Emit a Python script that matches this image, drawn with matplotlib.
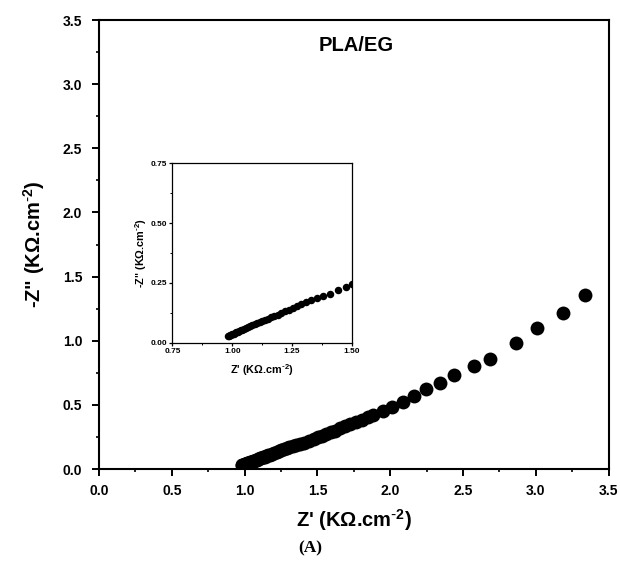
import matplotlib
matplotlib.use("Agg")
import matplotlib.pyplot as plt
from matplotlib.ticker import MultipleLocator

plt.rcParams['font.family'] = ['Liberation Sans', 'DejaVu Sans']
plt.rcParams['mathtext.default'] = 'regular'

# Nyquist data (KOhm.cm^-2)
z_real = [0.980, 0.985, 0.990, 0.995, 1.000, 1.005, 1.010, 1.016, 1.022, 1.028,
          1.035, 1.042, 1.050, 1.058, 1.066, 1.075, 1.084, 1.094, 1.104, 1.115,
          1.126, 1.138, 1.150, 1.163, 1.176, 1.190, 1.205, 1.220, 1.236, 1.253,
          1.270, 1.288, 1.307, 1.330, 1.352, 1.378, 1.407, 1.440, 1.474, 1.501,
          1.530, 1.560, 1.590, 1.620, 1.655, 1.690, 1.725, 1.765, 1.805, 1.845,
          1.882, 1.948, 2.010, 2.090, 2.166, 2.246, 2.340, 2.440, 2.578, 2.685,
          2.864, 3.010, 3.185, 3.338]
z_imag = [0.028, 0.030, 0.032, 0.034, 0.036, 0.038, 0.040, 0.043, 0.046, 0.049,
          0.052, 0.055, 0.058, 0.062, 0.065, 0.069, 0.073, 0.077, 0.082, 0.086,
          0.091, 0.096, 0.101, 0.107, 0.112, 0.118, 0.125, 0.131, 0.138, 0.145,
          0.153, 0.161, 0.170, 0.177, 0.186, 0.194, 0.205, 0.219, 0.233, 0.246,
          0.259, 0.272, 0.286, 0.300, 0.316, 0.332, 0.348, 0.366, 0.385, 0.403,
          0.421, 0.454, 0.486, 0.525, 0.571, 0.621, 0.672, 0.730, 0.803, 0.857,
          0.980, 1.101, 1.218, 1.356]

main_ticks = [0.0, 0.5, 1.0, 1.5, 2.0, 2.5, 3.0, 3.5]
inset_xticks = [0.75, 1.00, 1.25, 1.50]
inset_yticks = [0.00, 0.25, 0.50, 0.75]

label_text_x = "Z' (KΩ.cm$^{\\text{-}2}$)"
label_text_y = '-Z" (KΩ.cm$^{\\text{-}2}$)'

fig = plt.figure(figsize=(6.2, 5.65), dpi=100)
ax = fig.add_axes([0.1597, 0.1699, 0.822, 0.7947])
ax.plot(z_real, z_imag, 'o', color='black', markersize=10, markeredgewidth=0)
ax.set_xlim(0, 3.5)
ax.set_ylim(0, 3.5)
ax.set_xticks(main_ticks)
ax.set_yticks(main_ticks)
ax.set_xticklabels([f"{t:.1f}" for t in main_ticks])
ax.set_yticklabels([f"{t:.1f}" for t in main_ticks])
ax.xaxis.set_minor_locator(MultipleLocator(0.25))
ax.yaxis.set_minor_locator(MultipleLocator(0.25))
ax.tick_params(which='major', direction='out', length=5, width=1.4, labelsize=10)
ax.tick_params(axis='x', which='major', pad=5.8)
ax.tick_params(axis='y', which='major', pad=7)
ax.tick_params(which='minor', direction='out', length=2.5, width=1.2)
for lab in ax.get_xticklabels() + ax.get_yticklabels():
    lab.set_fontweight('bold')
for s in ax.spines.values():
    s.set_linewidth(1.5)
ax.set_xlabel(label_text_x, fontsize=14.5, fontweight='bold', labelpad=6.5)
ax.set_ylabel(label_text_y, fontsize=14.5, fontweight='bold', labelpad=11.5)
ax.text(0.505, 0.944, 'PLA/EG', transform=ax.transAxes, ha='center', va='center',
        fontsize=14.5, fontweight='bold')

# inset
ins = fig.add_axes([0.2782, 0.3934, 0.2895, 0.3175])
ins.plot(z_real, z_imag, 'o', color='black', markersize=5.4, markeredgewidth=0)
ins.set_xlim(0.75, 1.5)
ins.set_ylim(0, 0.75)
ins.set_xticks(inset_xticks)
ins.set_yticks(inset_yticks)
ins.set_xticklabels([f"{t:.2f}" for t in inset_xticks])
ins.set_yticklabels([f"{t:.2f}" for t in inset_yticks])
ins.xaxis.set_minor_locator(MultipleLocator(0.125))
ins.yaxis.set_minor_locator(MultipleLocator(0.125))
ins.tick_params(which='major', direction='out', length=2.5, width=0.9,
                labelsize=6, pad=1.5)
ins.tick_params(which='minor', direction='out', length=1.5, width=0.7)
for lab in ins.get_xticklabels() + ins.get_yticklabels():
    lab.set_fontweight('bold')
for s in ins.spines.values():
    s.set_linewidth(0.9)
ins.set_xlabel(label_text_x, fontsize=7.8, fontweight='bold', labelpad=5)
ins.set_ylabel(label_text_y, fontsize=7.8, fontweight='bold', labelpad=1)

fig.text(0.5, 0.03, '(A)', ha='center', va='center', fontsize=12.5,
         fontweight='bold', family=['Liberation Serif', 'DejaVu Serif'])

fig.savefig('out.png', dpi=100)
